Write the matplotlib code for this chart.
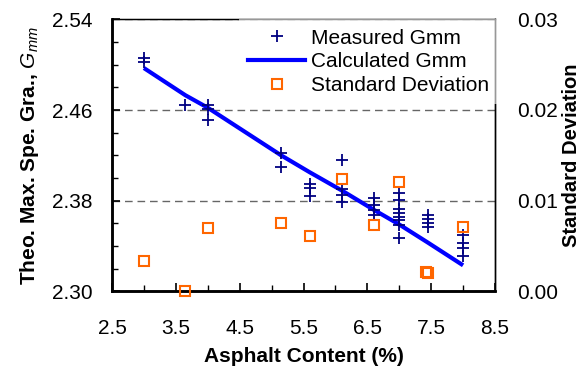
import matplotlib
matplotlib.use("Agg")
import matplotlib.pyplot as plt
from matplotlib.ticker import FormatStrFormatter
from matplotlib.lines import Line2D

plt.rcParams['font.family'] = ['Liberation Sans', 'DejaVu Sans']
plt.rcParams['mathtext.fontset'] = 'custom'
plt.rcParams['mathtext.it'] = 'Liberation Sans:italic'
plt.rcParams['mathtext.rm'] = 'Liberation Sans'

# ---- data ----
measured_ac = [3.0, 3.0, 3.65, 4.0, 4.0, 4.0, 5.15, 5.15,
               5.6, 5.6, 5.6, 6.1, 6.1, 6.1, 6.1,
               6.6, 6.6, 6.6, 6.6,
               7.0, 7.0, 7.0, 7.0, 7.0, 7.0, 7.0, 7.0,
               7.45, 7.45, 7.45, 7.45, 8.0, 8.0, 8.0, 8.0]
measured_gmm = [2.506, 2.502, 2.464, 2.464, 2.461, 2.451, 2.422, 2.410,
                2.395, 2.391, 2.384, 2.416, 2.390, 2.385, 2.379,
                2.382, 2.376, 2.372, 2.367,
                2.387, 2.381, 2.373, 2.369, 2.366, 2.363, 2.359, 2.347,
                2.367, 2.364, 2.360, 2.357, 2.350, 2.343, 2.338, 2.331]

calc_ac = [3.0, 3.65, 4.0, 5.15, 5.6, 6.1, 6.6, 7.0, 7.45, 8.0]
calc_gmm = [2.497, 2.473, 2.462, 2.420, 2.405, 2.389, 2.372, 2.359, 2.343, 2.323]

sd_ac = [3.0, 3.65, 4.0, 5.15, 5.6, 6.1, 6.6, 7.0, 7.42, 7.45, 8.0]
sd_val = [0.0033, 0.0, 0.0070, 0.0075, 0.0061, 0.0124, 0.0073, 0.0121, 0.0021, 0.0020, 0.0071]

x_ticks = [2.5, 3.5, 4.5, 5.5, 6.5, 7.5, 8.5]
y_ticks = [2.30, 2.38, 2.46, 2.54]
y2_ticks = [0.00, 0.01, 0.02, 0.03]

fig = plt.figure(figsize=(5.87, 3.79), dpi=100)
ax = fig.add_axes([112/587, 1-291.4/379, (495-112)/587, (291.4-19.3)/379])
ax2 = ax.twinx()

navy = '#000080'
blue = '#0000FF'
orange = '#FF6600'

ax.plot(calc_ac, calc_gmm, color=blue, lw=3.0, zorder=3, solid_capstyle='butt')
ax.plot(measured_ac, measured_gmm, ls='none', marker='+', ms=9, mew=1.3,
        color=navy, zorder=4)
ax2.plot(sd_ac, sd_val, ls='none', marker='s', ms=7, mew=1.5, mfc='none',
         mec=orange, clip_on=False, zorder=5)

ax.set_xlim(2.5, 8.5)
ax.set_ylim(2.30, 2.54)
ax2.set_ylim(0.0, 0.03)

ax.set_xticks(x_ticks)
ax.set_xticks([2.5 + 0.5*i for i in range(13)], minor=True)
ax.set_yticks(y_ticks)
ax.set_yticks([2.30 + 0.02*i for i in range(13)], minor=True)
ax.yaxis.set_major_formatter(FormatStrFormatter('%.2f'))
ax.xaxis.set_major_formatter(FormatStrFormatter('%.1f'))
ax2.set_yticks(y2_ticks)
ax2.yaxis.set_major_formatter(FormatStrFormatter('%.2f'))

ax.tick_params(axis='both', which='major', direction='in', length=6, width=1.2,
               labelsize=15, color='black')
ax.tick_params(axis='both', which='minor', direction='in', length=4, width=1.0)
ax.tick_params(axis='y', which='major', pad=14)
ax.tick_params(axis='x', which='major', pad=20)
ax.tick_params(axis='y', right=False, which='both')
ax.tick_params(axis='x', top=False, which='both')
ax2.tick_params(axis='y', length=0, labelsize=15, pad=16)

ax.yaxis.grid(True, which='major', color='#666666', lw=1.0, ls=(0, (5.5, 3.5)))
ax.set_axisbelow(True)

for s in ['left', 'bottom']:
    ax.spines[s].set_linewidth(1.8)
for s in ['top', 'right']:
    ax.spines[s].set_linewidth(1.0)
ax2.spines['right'].set_linewidth(1.0)
ax2.spines['left'].set_linewidth(1.8)
ax2.spines['bottom'].set_linewidth(1.8)

ax.set_xlabel('Asphalt Content (%)', fontsize=15, fontweight='bold', labelpad=6)
ax.set_ylabel('Theo. Max. Spe. Gra., $\\mathit{G}_{mm}$', fontsize=15,
              fontweight='bold', labelpad=8)
ax2.set_ylabel('Standard Deviation', fontsize=14.5, fontweight='bold', labelpad=3)

handles = [
    Line2D([], [], ls='none', marker='+', ms=9, mew=1.3, color=navy),
    Line2D([], [], color=blue, lw=3.0),
    Line2D([], [], ls='none', marker='s', ms=7, mew=1.5, mfc='none', mec=orange),
]
labels = ['Measured Gmm', 'Calculated Gmm', 'Standard Deviation']
leg = ax2.legend(handles, labels, loc='upper left',
                 bbox_to_anchor=(239/587, 1-19.3/379), bbox_transform=fig.transFigure,
                 fontsize=15, frameon=True, fancybox=False, framealpha=0.6,
                 edgecolor='none', facecolor='white', borderaxespad=0,
                 borderpad=0.45, handlelength=2.7, handletextpad=0.3,
                 labelspacing=0.22)

fig.savefig('out.png', dpi=100)
